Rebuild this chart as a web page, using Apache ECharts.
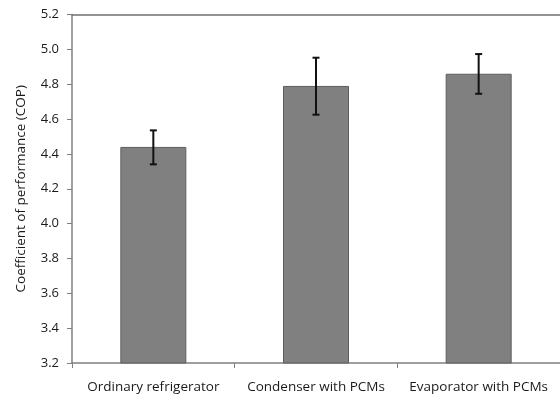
<!DOCTYPE html>
<html>
<head>
<meta charset="utf-8">
<script src="https://cdn.jsdelivr.net/npm/echarts@6/dist/echarts.min.js"></script>
<style>html,body{margin:0;padding:0;background:#fff}#c{width:560px;height:399px}</style>
</head>
<body>
<div id="c"></div>
<script>
const categories = ['Ordinary refrigerator', 'Condenser with PCMs', 'Evaporator with PCMs'];
const copValues = [4.44, 4.79, 4.86];
const errLow = [4.34, 4.625, 4.745];
const errHigh = [4.535, 4.952, 4.973];
const yTicks = [3.2, 3.4, 3.6, 3.8, 4.0, 4.2, 4.4, 4.6, 4.8, 5.0, 5.2];

const chart = echarts.init(document.getElementById('c'), null, {renderer: 'canvas'});
const font = 'Open Sans';
const errData = categories.map((c, i) => [i, errLow[i], errHigh[i]]);
chart.setOption({
  animation: false,
  grid: {left: 72, top: 14.5, width: 491, height: 348.5},
  xAxis: [{
    type: 'category', data: categories, position: 'bottom',
    axisLine: {lineStyle: {color: '#808080', width: 1.5}},
    axisTick: {show: true, length: 5, interval: 0, alignWithLabel: false, lineStyle: {color: '#808080'}},
    axisLabel: {color: '#1a1a1a', fontFamily: font, fontSize: 13.5, margin: 17, interval: 0}
  }, {
    type: 'category', data: categories, position: 'top',
    axisLine: {show: true, lineStyle: {color: '#707070', width: 1.5}},
    axisTick: {show: false}, axisLabel: {show: false}
  }],
  yAxis: {
    type: 'value', min: 3.2, max: 5.2, interval: 0.2,
    name: 'Coefficient of performance (COP)', nameLocation: 'middle', nameGap: 44,
    nameTextStyle: {color: '#1a1a1a', fontFamily: font, fontSize: 13.5},
    axisLine: {show: true, lineStyle: {color: '#808080', width: 1.5}},
    axisTick: {show: true, length: 5, lineStyle: {color: '#808080'}},
    axisLabel: {color: '#1a1a1a', fontFamily: font, fontSize: 13, margin: 13,
      formatter: v => { const t = yTicks.find(x => Math.abs(x - v) < 1e-6); return (t !== undefined ? t : v).toFixed(1); }},
    splitLine: {show: false}
  },
  series: [{
    type: 'bar', data: copValues, barWidth: 66, xAxisIndex: 0,
    itemStyle: {color: '#808080', borderColor: '#5e5e5e', borderWidth: 1}
  }, {
    type: 'custom', xAxisIndex: 0, data: errData, z: 10,
    renderItem: function (params, api) {
      const x = api.value(0);
      const lo = api.coord([x, api.value(1)]);
      const hi = api.coord([x, api.value(2)]);
      const hw = 3.5;
      const st = {stroke: '#111', lineWidth: 2};
      return {type: 'group', children: [
        {type: 'line', shape: {x1: lo[0], y1: lo[1], x2: hi[0], y2: hi[1]}, style: st},
        {type: 'line', shape: {x1: lo[0] - hw, y1: lo[1], x2: lo[0] + hw, y2: lo[1]}, style: st},
        {type: 'line', shape: {x1: hi[0] - hw, y1: hi[1], x2: hi[0] + hw, y2: hi[1]}, style: st}
      ]};
    }
  }]
});
</script>
</body>
</html>
